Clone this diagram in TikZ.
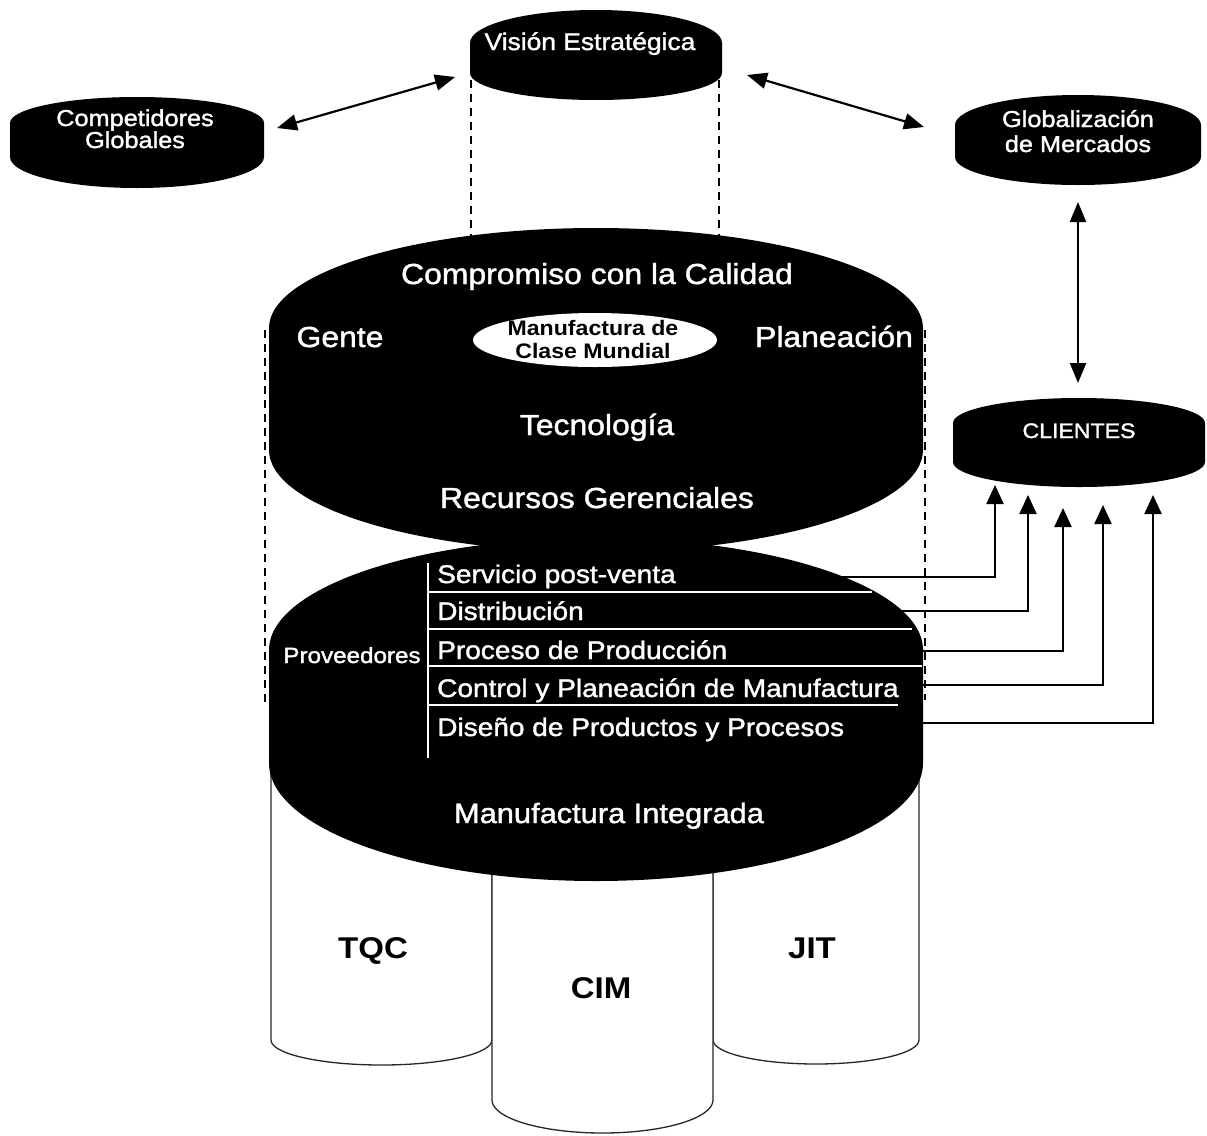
\documentclass[tikz,border=0pt]{standalone}
\usepackage{fontspec}
\setmainfont[FakeStretch=1.1]{Liberation Sans}
\newfontfamily\thickfont[FakeStretch=1.1,FakeBold=1.5]{Liberation Sans}
\usetikzlibrary{arrows.meta}
\newcommand\mydisk[6]{%
  \fill[black] ({#1-#2},#3) arc[start angle=180,end angle=0,x radius=#2pt,y radius=#4pt]
    -- ({#1+#2},#5) arc[start angle=0,end angle=-180,x radius=#2pt,y radius=#6pt] -- cycle;}
\begin{document}
\begin{tikzpicture}[x=1pt,y=-1pt,
  disktxt/.style={text=white, anchor=base, inner sep=0pt, align=center},
  rowtxt/.style={text=white, anchor=base west, inner sep=0pt, font=\thickfont\fontsize{25.5}{28}\selectfont},
  rowsep/.style={draw=white, line width=1.6pt},
  cyldash/.style={draw=black, line width=1.8pt, dash pattern=on 8pt off 6pt},
  pillar/.style={fill=white, draw=black!85, line width=1.3pt},
  pillartxt/.style={anchor=base, inner sep=0pt, font=\fontsize{30}{32}\selectfont\bfseries},
  dblarrow/.style={line width=2.2pt, {Triangle[length=20pt,width=16pt]}-{Triangle[length=20pt,width=16pt]}},
  toclient/.style={line width=2.2pt, -{Triangle[length=19pt,width=17pt]}}]
\useasboundingbox (0,0) rectangle (1207,1135);
\fill[white] (0,0) rectangle (1207,1135);

% dashed outlines of the transparent cylinders
\draw[cyldash] (471,80) -- (471,236);
\draw[cyldash] (719,80) -- (719,236);
\draw[cyldash] (265,330) -- (265,705);
\draw[cyldash] (925,330) -- (925,700);

% pillars
\filldraw[pillar] (271,690) -- (271,1040) arc[start angle=180,end angle=360,x radius=110.5pt,y radius=25pt] -- (492,690);
\filldraw[pillar] (713,690) -- (713,1040) arc[start angle=180,end angle=360,x radius=103pt,y radius=24pt] -- (919,690);
\filldraw[pillar] (492,840) -- (492,1100) arc[start angle=180,end angle=360,x radius=110.5pt,y radius=33pt] -- (713,840);

% black disks
\mydisk{596}{126}{43}{33}{73}{27}
\mydisk{137}{127}{123}{26}{157}{31}
\mydisk{1078}{123}{125}{30}{157}{28}
\mydisk{1079}{126}{423}{25}{462}{25}
\mydisk{596}{327}{650}{112}{763}{118}
\mydisk{596}{327}{328}{100}{450}{102}

% white centre ellipse
\fill[white] (595,340) ellipse[x radius=122pt,y radius=27pt];

% separators in the lower disk
\draw[rowsep] (428,563) -- (428,758);
\draw[rowsep] (428,592) -- (872,592);
\draw[rowsep] (428,629) -- (912,629);
\draw[rowsep] (428,666) -- (922,666);
\draw[rowsep] (428,705) -- (898,705);

% texts
\node[disktxt, font=\thickfont\fontsize{24}{26}\selectfont] (vision) at (590,50) {Visión Estratégica};
\node[disktxt, font=\thickfont\fontsize{23}{22}\selectfont] (comp) at (135,148) {Competidores\\Globales};
\node[disktxt, font=\thickfont\fontsize{23}{25}\selectfont] (glob) at (1078,152) {Globalización\\de Mercados};
\node[disktxt, font=\thickfont\fontsize{21}{24}\selectfont] (clientes) at (1079,438) {CLIENTES};
\node[disktxt, font=\thickfont\fontsize{29}{32}\selectfont] (calidad) at (597,284) {Compromiso con la Calidad};
\node[disktxt, font=\thickfont\fontsize{29}{32}\selectfont] (gente) at (340,347) {Gente};
\node[disktxt, font=\thickfont\fontsize{29}{32}\selectfont] (planeacion) at (834,347) {Planeación};
\node[disktxt, font=\thickfont\fontsize{29}{32}\selectfont] (tecnologia) at (597,435) {Tecnología};
\node[disktxt, font=\thickfont\fontsize{29}{32}\selectfont] (recursos) at (597,508) {Recursos Gerenciales};
\node[anchor=base, inner sep=0pt, align=center, font=\fontsize{21}{23}\selectfont\bfseries] (mcm) at (593,358) {Manufactura de\\Clase Mundial};
\node[disktxt, font=\thickfont\fontsize{22}{24}\selectfont] (proveedores) at (352,663) {Proveedores};
\node[rowtxt] (row1) at (437,583) {Servicio post-venta};
\node[rowtxt] (row2) at (437,620) {Distribución};
\node[rowtxt] (row3) at (437,659) {Proceso de Producción};
\node[rowtxt] (row4) at (437,697) {Control y Planeación de Manufactura};
\node[rowtxt] (row5) at (437,736) {Diseño de Productos y Procesos};
\node[disktxt, font=\thickfont\fontsize{28}{30}\selectfont] (integrada) at (609,823) {Manufactura Integrada};
\node[pillartxt] (tqc) at (373,958) {TQC};
\node[pillartxt] (cim) at (601,998) {CIM};
\node[pillartxt] (jit) at (812,958) {JIT};

% connector end points
\coordinate (compE) at (277,128);
\coordinate (visW) at (455,77);
\coordinate (visE) at (747,75);
\coordinate (globW) at (924,127);
\coordinate (globS) at (1078,202);
\coordinate (cliN) at (1078,383);
\coordinate (r1) at (830,577);
\coordinate (r2) at (885,611);
\coordinate (r3) at (900,651);
\coordinate (r4) at (900,685);
\coordinate (r5) at (900,723);
\coordinate (t1) at (995,485);
\coordinate (t2) at (1028,495);
\coordinate (t3) at (1063,508);
\coordinate (t4) at (1103,505);
\coordinate (t5) at (1153,495);

% arrows
\draw[dblarrow] (compE) -- (visW);
\draw[dblarrow] (visE) -- (globW);
\draw[dblarrow] (globS) -- (cliN);
\draw[toclient] (r1) -| (t1);
\draw[toclient] (r2) -| (t2);
\draw[toclient] (r3) -| (t3);
\draw[toclient] (r4) -| (t4);
\draw[toclient] (r5) -| (t5);
\end{tikzpicture}
\end{document}
